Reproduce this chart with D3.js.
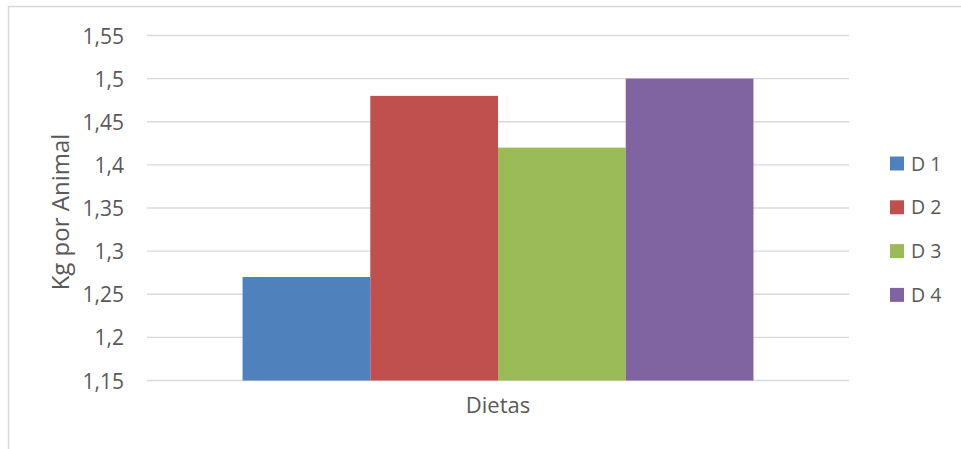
<!DOCTYPE html>
<html>
<head>
<meta charset="utf-8">
<script src="https://cdn.jsdelivr.net/npm/d3@7"></script>
<style>
  html, body { margin: 0; padding: 0; background: #fff; }
  svg { display: block; font-family: "Open Sans", Lato, "Liberation Sans", sans-serif; }
</style>
</head>
<body>
<svg id="chart" width="961" height="449"></svg>
<script>
// Diet series and their values (kg per animal)
const series = ["D 1", "D 2", "D 3", "D 4"];
const values = [1.27, 1.48, 1.42, 1.50];
const colors = ["#4F81BD", "#C0504D", "#9BBB59", "#8064A2"];
const category = ["Dietas"];
const yTicks = [1.15, 1.2, 1.25, 1.3, 1.35, 1.4, 1.45, 1.5, 1.55];

const svg = d3.select("#chart");
const W = 961, H = 449;
const textColor = "#595959";

// Chart frame
svg.append("rect")
  .attr("x", 8.5).attr("y", 6.5)
  .attr("width", W + 20).attr("height", H + 20)
  .attr("fill", "none").attr("stroke", "#D9D9D9").attr("stroke-width", 1.5);

const plot = { left: 147, right: 849, top: 35.5, bottom: 380.5 };

const y = d3.scaleLinear().domain([1.15, 1.55]).range([plot.bottom, plot.top]);
const x0 = d3.scaleBand().domain(category).range([plot.left, plot.right]).paddingInner(0).paddingOuter(0.187);
const x1 = d3.scaleBand().domain(series).range([0, x0.bandwidth()]).padding(0);

const fmt = v => d3.format(".2~f")(v).replace(".", ",");

// Gridlines
svg.append("g")
  .selectAll("line").data(yTicks).join("line")
  .attr("x1", plot.left).attr("x2", plot.right)
  .attr("y1", d => y(d)).attr("y2", d => y(d))
  .attr("stroke", "#D9D9D9").attr("stroke-width", 1.3);

// Y axis labels
const yAxis = d3.axisLeft(y).tickValues(yTicks).tickFormat(fmt).tickSize(0).tickPadding(0);
const ga = svg.append("g").attr("transform", `translate(${plot.left - 23},0)`).call(yAxis);
ga.select(".domain").remove();
ga.selectAll("text")
  .attr("fill", textColor).attr("font-size", 21).attr("dy", "0.36em")
  .style("font-family", "'Open Sans', Lato, sans-serif");

// Bars
const groups = svg.append("g").selectAll("g").data(category).join("g")
  .attr("transform", d => `translate(${x0(d)},0)`);
groups.selectAll("rect")
  .data(series.map((s, i) => ({ s, v: values[i], c: colors[i] })))
  .join("rect")
  .attr("x", d => x1(d.s))
  .attr("width", x1.bandwidth())
  .attr("y", d => y(d.v))
  .attr("height", d => y(1.15) - y(d.v))
  .attr("fill", d => d.c);

// Category label
svg.append("text")
  .attr("x", x0("Dietas") + x0.bandwidth() / 2).attr("y", 413)
  .attr("text-anchor", "middle").attr("fill", textColor).attr("font-size", 22)
  .text(category[0]);

// Y axis title
svg.append("text")
  .attr("transform", `translate(69,212) rotate(-90)`)
  .attr("text-anchor", "middle").attr("fill", textColor).attr("font-size", 24)
  .text("Kg por Animal");

// Legend
const legend = svg.append("g").selectAll("g").data(series).join("g")
  .attr("transform", (d, i) => `translate(890,${163.5 + i * 43.8})`);
legend.append("rect")
  .attr("x", 0).attr("y", -7).attr("width", 14).attr("height", 14)
  .attr("fill", (d, i) => colors[i]);
legend.append("text")
  .attr("x", 21).attr("y", 7)
  .attr("fill", textColor).attr("font-size", 19.5)
  .text(d => d);
</script>
</body>
</html>
